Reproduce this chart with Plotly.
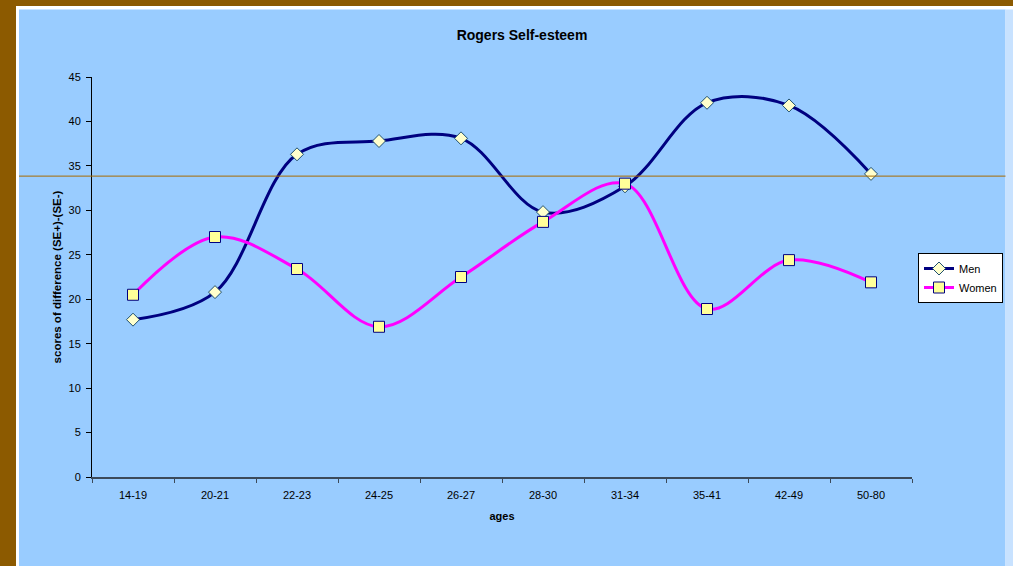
import plotly.graph_objects as go

# Age groups and mean difference scores (SE+)-(SE-)
ages = ["14-19", "20-21", "22-23", "24-25", "26-27", "28-30", "31-34", "35-41", "42-49", "50-80"]
men = [17.7, 20.8, 36.3, 37.8, 38.1, 29.8, 32.7, 42.1, 41.8, 34.1]
women = [20.5, 27.0, 23.4, 16.9, 22.5, 28.7, 33.0, 18.9, 24.4, 21.9]
reference_level = 33.85
y_ticks = [0, 5, 10, 15, 20, 25, 30, 35, 40, 45]

W, H = 1013, 566
L, R, T, B = 92, 101, 77, 89
PW = W - L - R
PH = H - T - B


def px_x(p):
    return (p - L) / PW


def px_y(p):
    return (H - B - p) / PH


FONT = "Liberation Sans, Arial, sans-serif"
BROWN = "#8c5a00"
PANEL = "#99ccff"

fig = go.Figure()

fig.add_trace(go.Scatter(
    x=ages, y=men, name="Men", mode="lines+markers",
    line=dict(color="#000080", width=3, shape="spline", smoothing=1.0),
    marker=dict(symbol="diamond", size=10, color="#ffffcc",
                line=dict(color="#1f4f6f", width=1)),
))
fig.add_trace(go.Scatter(
    x=ages, y=women, name="Women", mode="lines+markers",
    line=dict(color="#ff00ff", width=3, shape="spline", smoothing=1.0),
    marker=dict(symbol="square", size=11, color="#ffff99",
                line=dict(color="#000080", width=1)),
))

shapes = [
    # white frame and light-blue chart panel
    dict(type="rect", xref="paper", yref="paper", layer="below",
         x0=px_x(16), x1=px_x(W + 5), y0=px_y(H + 5), y1=px_y(6),
         fillcolor="#ffffff", line=dict(width=0)),
    dict(type="rect", xref="paper", yref="paper", layer="below",
         x0=px_x(19), x1=px_x(1005.5), y0=px_y(H + 5), y1=px_y(9.5),
         fillcolor=PANEL, line=dict(width=0)),
    dict(type="rect", xref="paper", yref="paper", layer="below",
         x0=px_x(1005.5), x1=px_x(W + 5), y0=px_y(H + 5), y1=px_y(9.5),
         fillcolor="#c8e2ff", line=dict(width=0)),
    # reference level line across the panel
    dict(type="line", xref="paper", yref="y", layer="above",
         x0=px_x(19), x1=px_x(1005.5), y0=reference_level, y1=reference_level,
         line=dict(color="#a86a00", width=1)),
]

fig.update_layout(
    width=W, height=H,
    margin=dict(l=L, r=R, t=T, b=B, autoexpand=False),
    paper_bgcolor=BROWN,
    plot_bgcolor="rgba(0,0,0,0)",
    font=dict(family=FONT, size=11, color="#000000"),
    shapes=shapes,
    title=dict(text="<b>Rogers Self-esteem</b>", x=522 / W,
               xref="container", y=1 - 35 / H, yref="container",
               xanchor="center", yanchor="middle",
               font=dict(family=FONT, size=14, color="#000000")),
    showlegend=True,
    legend=dict(x=px_x(918), y=px_y(253), xanchor="left", yanchor="top",
                bgcolor="#ffffff", bordercolor="#000000", borderwidth=1,
                font=dict(family=FONT, size=11, color="#000000"),
                tracegroupgap=0, itemwidth=30),
)

fig.update_xaxes(
    type="category", range=[-0.5, len(ages) - 0.5],
    showgrid=False, zeroline=False,
    showline=True, linecolor="#3c4a5a", linewidth=2,
    ticks="outside", tickson="boundaries", ticklen=4, tickcolor="#3c4a5a",
    ticklabelstandoff=7,
    tickfont=dict(family=FONT, size=11, color="#000000"),
    title=dict(text="<b>ages</b>", standoff=12,
               font=dict(family=FONT, size=11, color="#000000")),
)
fig.update_yaxes(
    range=[0, 45], tickvals=y_ticks, showgrid=False, zeroline=False,
    showline=True, linecolor="#000000", linewidth=1,
    ticks="outside", ticklen=5, tickcolor="#000000",
    ticklabelstandoff=3,
    tickfont=dict(family=FONT, size=11, color="#000000"),
    title=dict(text="<b>scores of difference (SE+)-(SE-)</b>", standoff=4,
               font=dict(family=FONT, size=11.5, color="#000000")),
)

fig.write_html("out.html")
